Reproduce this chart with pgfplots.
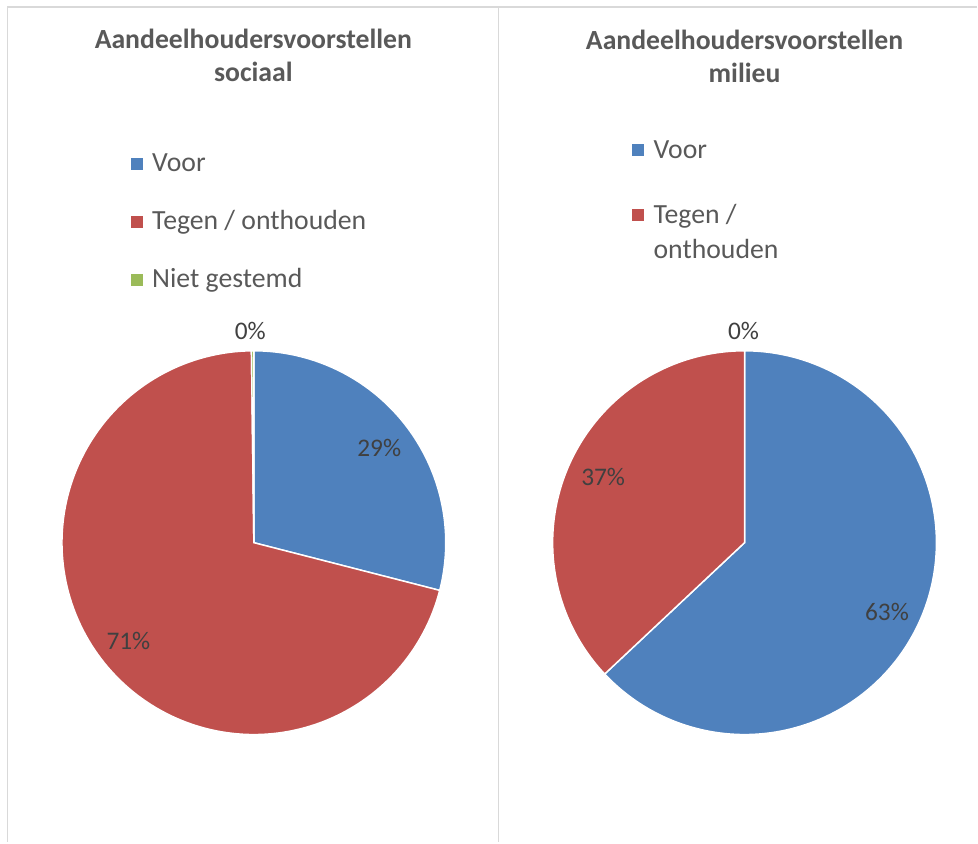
\documentclass[border=0pt]{standalone}
\usepackage{fontspec}
\setmainfont{Carlito}
\usepackage{pgfplots}
\pgfplotsset{compat=1.18}
\definecolor{voor}{HTML}{4F81BD}
\definecolor{tegen}{HTML}{C0504D}
\definecolor{niet}{HTML}{9BBB59}
\definecolor{titlec}{HTML}{595959}
\definecolor{legc}{HTML}{595959}
\definecolor{labc}{HTML}{404040}
\definecolor{framec}{HTML}{D9D9D9}
\newcommand\legfont{\fontsize{20.8}{25}\selectfont}
\newcommand\titfont{\fontsize{20.8}{25}\selectfont\bfseries}
\newcommand\labfont{\fontsize{19}{23}\selectfont}
\pgfplotsset{
  canvas/.style={width=733.5pt,height=632.25pt,scale only axis,
    xmin=0,xmax=978,ymin=0,ymax=843,y dir=reverse,hide axis,clip=false,
    at={(0,0)},anchor=south west,
    legend image code/.code={\fill[##1,draw=none] (0pt,1.7pt) rectangle (9pt,10.7pt);},
    legend cell align=left},
  slice/.style={fill=#1,draw=white,line width=1.1pt,samples=150,variable=\t},
  leg/.style 2 args={legend style={at={(axis cs:#1)},anchor=north west,draw=none,fill=none,
    inner sep=0pt,outer sep=0pt,row sep=#2,column sep=7pt,font=\legfont,text=legc,
    cells={anchor=base west},nodes={inner sep=0pt,outer sep=0pt}}},
}
\begin{document}
\begin{tikzpicture}
% ---------- left chart: sociaal (Voor 29, Tegen/onthouden 71, Niet gestemd 0) ----------
\begin{axis}[canvas,leg={131,148.7}{24.5pt}]
  \addplot[slice=voor,domain=0:29] ({254+192*sin(3.6*\t)},{543-192*cos(3.6*\t)}) -- (axis cs:254,543) -- cycle;
  \addlegendentry{\strut Voor}
  \addplot[slice=tegen,domain=29:99.8] ({254+192*sin(3.6*\t)},{543-192*cos(3.6*\t)}) -- (axis cs:254,543) -- cycle;
  \addlegendentry{\strut Tegen / onthouden}
  \addplot[slice=niet,domain=99.8:100,samples=5] ({254+192*sin(3.6*\t)},{543-192*cos(3.6*\t)}) -- (axis cs:254,543) -- cycle;
  \addlegendentry{\strut Niet gestemd}
  \path (axis cs:0,0) rectangle (axis cs:978,843);
  \draw[framec,line width=0.9pt] (axis cs:978,7) -- (axis cs:7.5,7) -- (axis cs:7.5,843);
  \draw[framec,line width=0.9pt] (axis cs:499,7) -- (axis cs:499,843);
  \node[font=\titfont,text=titlec,anchor=base,inner sep=0pt] at (axis cs:253.5,49) {Aandeelhoudersvoorstellen};
  \node[font=\titfont,text=titlec,anchor=base,inner sep=0pt] at (axis cs:253.5,82) {sociaal};
  \node[font=\labfont,text=labc,inner sep=0pt] at (axis cs:379.5,448) {29\%};
  \node[font=\labfont,text=labc,inner sep=0pt] at (axis cs:128.5,641) {71\%};
  \node[font=\labfont,text=labc,inner sep=0pt] at (axis cs:250.5,331.5) {0\%};
\end{axis}
% ---------- right chart: milieu (Voor 63, Tegen/onthouden 37, Niet gestemd 0) ----------
\begin{axis}[canvas,leg={632.7,135.4}{29.4pt}]
  \addplot[slice=voor,domain=0:63] ({745+192*sin(3.6*\t)},{543-192*cos(3.6*\t)}) -- (axis cs:745,543) -- cycle;
  \addlegendentry{\strut Voor}
  \addplot[slice=tegen,domain=63:100] ({745+192*sin(3.6*\t)},{543-192*cos(3.6*\t)}) -- (axis cs:745,543) -- cycle;
  \addlegendentry{\vtop{\baselineskip=26.25pt\hbox{\strut Tegen /}\hbox{\strut onthouden}}}
  \path (axis cs:0,0) rectangle (axis cs:978,843);
  \node[font=\titfont,text=titlec,anchor=base,inner sep=0pt] at (axis cs:745,50) {Aandeelhoudersvoorstellen};
  \node[font=\titfont,text=titlec,anchor=base,inner sep=0pt] at (axis cs:745,83) {milieu};
  \node[font=\labfont,text=labc,inner sep=0pt] at (axis cs:603.5,477.5) {37\%};
  \node[font=\labfont,text=labc,inner sep=0pt] at (axis cs:887.5,612) {63\%};
  \node[font=\labfont,text=labc,inner sep=0pt] at (axis cs:744,331.5) {0\%};
\end{axis}
\end{tikzpicture}
\end{document}
